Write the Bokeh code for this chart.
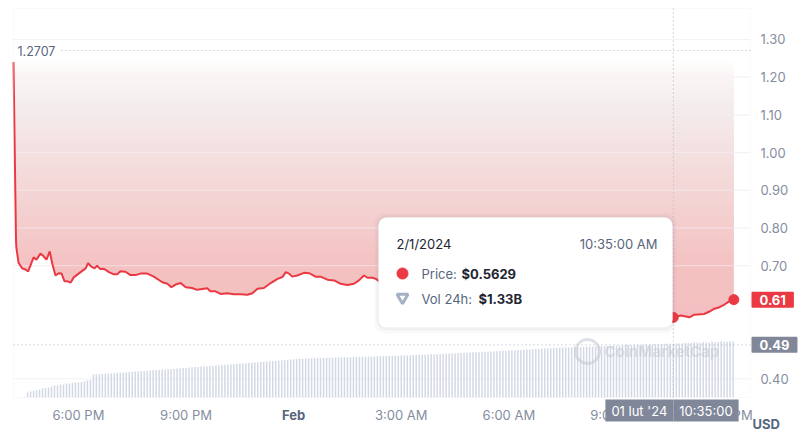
import numpy as np
from bokeh.plotting import figure
from bokeh.models import Range1d, FixedTicker, PrintfTickFormatter, Label, BoxAnnotation
from bokeh.embed import file_html
from bokeh.resources import INLINE

# ---------------- data (hours since 2024-01-31 00:00) ----------------
price_time = [
    16.19, 16.26, 16.27, 16.33, 16.43, 16.52, 16.60, 16.75, 16.83, 16.94,
    17.01, 17.11, 17.20, 17.27, 17.36, 17.45, 17.53, 17.61, 17.68, 17.78,
    17.87, 18.06, 18.20, 18.27, 18.35, 18.45, 18.52, 18.61, 18.71, 18.85,
    18.99, 19.08, 19.17, 19.31, 19.45, 19.59, 19.73, 19.92, 20.10, 20.34,
    20.48, 20.59, 20.71, 20.85, 20.99, 21.17, 21.31, 21.59, 21.68, 21.82,
    21.96, 22.15, 22.33, 22.52, 22.71, 22.85, 22.99, 23.17, 23.36, 23.55,
    23.69, 23.78, 23.87, 23.96, 24.10, 24.29, 24.43, 24.61, 24.75, 24.94,
    25.13, 25.31, 25.50, 25.68, 25.82, 25.96, 26.06, 26.20, 26.29, 26.38,
    26.6, 26.9, 27.2, 27.5, 27.8, 28.1, 28.4, 28.7, 29.0, 29.3,
    29.6, 29.9, 30.2, 30.5, 30.8, 31.1, 31.4, 31.7, 32.0, 32.3,
    32.6, 32.9, 33.2, 33.5, 33.8, 34.1, 34.4,
    34.583, 34.80, 35.03, 35.17, 35.45, 35.59, 35.73, 35.87, 36.01, 36.15, 36.27,
]
price_usd = [
    1.240, 0.767, 0.748, 0.708, 0.693, 0.690, 0.685, 0.722, 0.716, 0.732,
    0.727, 0.716, 0.738, 0.706, 0.674, 0.680, 0.679, 0.659, 0.659, 0.655,
    0.669, 0.683, 0.693, 0.707, 0.698, 0.693, 0.700, 0.691, 0.692, 0.683,
    0.677, 0.677, 0.685, 0.684, 0.675, 0.675, 0.679, 0.679, 0.671, 0.656,
    0.652, 0.643, 0.650, 0.654, 0.643, 0.641, 0.636, 0.640, 0.632, 0.632,
    0.625, 0.627, 0.624, 0.624, 0.623, 0.627, 0.639, 0.641, 0.654, 0.665,
    0.670, 0.683, 0.679, 0.671, 0.674, 0.681, 0.680, 0.671, 0.671, 0.663,
    0.661, 0.652, 0.649, 0.652, 0.661, 0.674, 0.668, 0.668, 0.665, 0.659,
    0.662, 0.655, 0.650, 0.657, 0.648, 0.640, 0.644, 0.636, 0.630, 0.634,
    0.626, 0.620, 0.625, 0.615, 0.610, 0.612, 0.604, 0.598, 0.602, 0.594,
    0.588, 0.590, 0.583, 0.578, 0.575, 0.570, 0.566,
    0.5629, 0.568, 0.563, 0.570, 0.572, 0.5785, 0.586, 0.590, 0.597, 0.606, 0.610,
]
vol_start_hour = 16.5          # first 5-minute volume bar (4:30 PM)
vol_step_hour = 5 / 60
volume_24h_b = [  # 24h volume, billions USD
    0.010, 0.123, 0.148, 0.172, 0.185, 0.197, 0.221, 0.234, 0.246, 0.271, 0.295, 0.297,
    0.320, 0.322, 0.344, 0.346, 0.357, 0.369, 0.370, 0.381, 0.394, 0.418, 0.431,
    0.566, 0.572, 0.575, 0.580, 0.586, 0.588, 0.594, 0.601, 0.606, 0.610, 0.617, 0.624,
    0.631, 0.638,
    0.641, 0.645, 0.652, 0.655, 0.660, 0.667, 0.671, 0.676, 0.683, 0.688, 0.692, 0.699,
    0.705, 0.709, 0.714, 0.721, 0.726, 0.731, 0.737, 0.744, 0.750, 0.755, 0.763,
    0.768, 0.771, 0.777, 0.784, 0.790, 0.794, 0.801, 0.806, 0.812, 0.819, 0.823, 0.829,
    0.836, 0.841, 0.846, 0.852, 0.858, 0.863, 0.868, 0.874, 0.880, 0.886,
    0.892, 0.899, 0.905, 0.911, 0.918, 0.924, 0.931, 0.937, 0.944, 0.951, 0.958,
    0.960, 0.962, 0.966, 0.967, 0.970, 0.972, 0.973, 0.977, 0.978, 0.980, 0.984, 0.985,
    0.988, 0.990, 0.991, 0.995, 0.996, 0.999, 1.000, 1.004, 1.005, 1.007, 1.011, 1.012,
    1.014, 1.018, 1.019, 1.021, 1.024, 1.026, 1.027, 1.030, 1.031, 1.033,
    1.036, 1.039, 1.043, 1.046, 1.048, 1.052, 1.056, 1.058, 1.061, 1.065, 1.068, 1.070,
    1.074, 1.078, 1.080, 1.084, 1.087, 1.090, 1.093, 1.097, 1.100, 1.104, 1.107,
    1.111, 1.114, 1.119, 1.123, 1.126, 1.131, 1.135, 1.139, 1.144, 1.148, 1.151, 1.156,
    1.160, 1.163, 1.168, 1.172, 1.175, 1.180, 1.184, 1.187, 1.193, 1.197, 1.200, 1.205,
    1.209, 1.212, 1.217, 1.221, 1.224, 1.230,
    1.232, 1.235, 1.238, 1.240, 1.243, 1.246, 1.248, 1.251, 1.254, 1.256, 1.259, 1.262,
    1.264, 1.267, 1.270, 1.272, 1.275, 1.278, 1.280, 1.283, 1.286, 1.288, 1.291, 1.294,
    1.296, 1.299, 1.302, 1.304, 1.307, 1.310, 1.312, 1.315, 1.318, 1.320, 1.323, 1.326,
    1.328, 1.330,
    1.333, 1.335, 1.338, 1.352, 1.343, 1.345, 1.366, 1.350, 1.353, 1.372, 1.358, 1.360,
    1.379, 1.365, 1.368, 1.386, 1.373, 1.375, 1.391, 1.380,
]
x_tick_hours = [18, 21, 24, 27, 30, 33, 36]
x_tick_labels = ["6:00 PM", "9:00 PM", "Feb", "3:00 AM", "6:00 AM", "9:00 AM", "12:00 PM"]
y_ticks = [0.40, 0.70, 0.80, 0.90, 1.00, 1.10, 1.20, 1.30]
max_price = 1.2707
ref_price = 0.49
last_price = 0.61
hover_time = 34.583
hover_price = 0.5629
hover_date = "2/1/2024"
hover_clock = "10:35:00 AM"
hover_vol = "$1.33B"
axis_date = "01 lut '24"
axis_clock = "10:35:00"

# ---------------- style / layout ----------------
RED = "#ea3943"
PINK = "#f4bcc0"
GREY_BOX = "#7f8799"
LABEL_GREY = "#858ea0"
DARK = "#222531"
MID = "#58667e"
DOT = "#aab2c0"
FONT = "Inter"

W, H = 800, 440
# visual plot box in page pixels and the data values at its edges
PL, PR, PT, PB = 13, 750, 8, 397
XL, XR = 16.19, 36.735
YT, YB = 1.3822, 0.3504
KX = (XR - XL) / (PR - PL)
KY = (YT - YB) / (PB - PT)
VOL_TOP = 9.6                      # volume value at the top of the plot box
KV = VOL_TOP / (PB - PT)


def sx(px):  # page pixel -> x data
    return XL + (px - PL) * KX


def sy(py):  # page pixel -> y data
    return YT - (py - PT) * KY


p = figure(width=W, height=H, x_range=Range1d(sx(0), sx(W)), y_range=Range1d(sy(H), sy(0)),
           y_axis_location="right", output_backend="svg", toolbar_location=None,
           min_border=0, background_fill_color="white", border_fill_color="white",
           outline_line_color=None)
p.extra_y_ranges = {"vol": Range1d(-(H - PB) * KV, PB * KV)}

# axes (pinned to the plot box edges)
p.yaxis.ticker = FixedTicker(ticks=y_ticks)
p.yaxis.formatter = PrintfTickFormatter(format="%.2f")
p.yaxis.fixed_location = XR
p.xaxis.ticker = FixedTicker(ticks=[t for t, l in zip(x_tick_hours, x_tick_labels) if l != "Feb"])
p.xaxis.major_label_overrides = {t: l for t, l in zip(x_tick_hours, x_tick_labels) if l != "Feb"}
p.xaxis.fixed_location = YB
for ax in (p.xaxis, p.yaxis):
    ax.axis_line_color = None
    ax.major_tick_line_color = None
    ax.minor_tick_line_color = None
    ax.major_tick_out = 0
    ax.major_tick_in = 0
    ax.minor_tick_out = 0
    ax.minor_tick_in = 0
    ax.major_label_text_font = FONT
    ax.major_label_text_font_size = "13px"
    ax.major_label_text_color = LABEL_GREY
p.yaxis.major_label_standoff = 10
p.xaxis.major_label_standoff = 9
p.xgrid.grid_line_color = None
p.ygrid.grid_line_color = None

# grid lines within the plot box
p.segment(x0=XL, x1=XR, y0=y_ticks, y1=y_ticks, line_color="#f1f2f5", line_width=1)

# volume bars
vol_t = vol_start_hour + np.arange(len(volume_24h_b)) * vol_step_hour
p.vbar(x=vol_t, top=volume_24h_b, bottom=0, width=vol_step_hour * 0.5, y_range_name="vol",
       fill_color="#d3d9e4", line_color=None)

# price area (filled above the line) fading toward the top
pt = np.array(price_time)
pv = np.array(price_usd)
top = pv[0]
p.varea(x=pt, y1=pv, y2=top, fill_color=PINK)
levels = np.linspace(pv.min(), top, 70)[:-1]
mid = levels + (levels[1] - levels[0]) / 2
strength = np.clip((top + 0.01 - mid) / (top + 0.01 - pv.min()), 0.01, 1.0)
ratio = strength / np.concatenate([[1.0], strength[:-1]])
p.quad(left=pt[0] - 0.01, right=pt[-1] + 0.01, bottom=levels, top=top + 0.01,
       fill_color="white", fill_alpha=1 - ratio, line_color=None)
grid_hi = [t for t in y_ticks if t > 0.6]
p.segment(x0=XL, x1=XR, y0=grid_hi, y1=grid_hi, line_color="#f3f4f6", line_alpha=0.6)

# reference lines (dotted)
dot_kw = dict(line_color=DOT, line_dash="1 3", line_width=1)
p.segment(x0=[XL], x1=[XR], y0=[max_price], y1=[max_price], **dot_kw)
p.segment(x0=[XL], x1=[XR], y0=[ref_price], y1=[ref_price], **dot_kw)
p.segment(x0=[hover_time], x1=[hover_time], y0=[YB], y1=[YT], **dot_kw)

p.line(pt, pv, line_color=RED, line_width=2)
p.scatter([pt[-1]], [pv[-1]], size=10, color=RED)
p.scatter([hover_time], [hover_price], size=10, color=RED)

# plot box outline
p.add_layout(BoxAnnotation(left=XL, right=XR, top=YT, bottom=YB, fill_alpha=0,
                           line_color="#eceef2", line_width=1))

p.add_layout(Label(x=sx(13), y=max_price, text=f"{max_price:.4f}", text_align="left",
                   text_baseline="middle", text_color=MID, text_font=FONT,
                   text_font_size="12.5px", background_fill_color="white",
                   padding=dict(x=4, y=1)))

# watermark
p.add_layout(Label(x=sx(604), y=sy(351), text="CoinMarketCap", text_align="left",
                   text_baseline="middle", text_color="#c3c9d4", text_alpha=0.55,
                   text_font=FONT, text_font_size="15px", text_font_style="bold"))
wm = p.scatter([sx(587)], [sy(351)], size=24, fill_color=None, line_color="#c3c9d4",
               line_width=3, line_alpha=0.55)
wm.level = "overlay"

# tooltip
for grow, alpha in ((4, 0.04), (2, 0.06)):
    gx, gy = grow * KX, grow * KY
    p.add_layout(BoxAnnotation(left=sx(378) - gx, right=sx(672) + gx, top=sy(217) + gy,
                               bottom=sy(327) - gy * 1.5, fill_color="#5a6478",
                               fill_alpha=alpha, line_color=None, border_radius=10))
p.add_layout(BoxAnnotation(left=sx(378), right=sx(672), top=sy(217), bottom=sy(327),
                           fill_color="white", fill_alpha=1.0, line_color="#eef0f3",
                           border_radius=8))
tip = dict(text_baseline="middle", text_font=FONT, text_font_size="13px")
p.add_layout(Label(x=sx(396), y=sy(243), text=hover_date, text_align="left",
                   text_color=DARK, **tip))
p.add_layout(Label(x=sx(657), y=sy(243), text=hover_clock, text_align="right",
                   text_color=MID, **tip))
p.add_layout(Label(x=sx(421), y=sy(273), text="Price:", text_align="left",
                   text_color=MID, **tip))
p.add_layout(Label(x=sx(461), y=sy(273), text=f"${hover_price}", text_align="left",
                   text_color=DARK, text_font_style="bold", **tip))
p.add_layout(Label(x=sx(421), y=sy(298), text="Vol 24h:", text_align="left",
                   text_color=MID, **tip))
p.add_layout(Label(x=sx(478), y=sy(298), text=hover_vol, text_align="left",
                   text_color=DARK, text_font_style="bold", **tip))
d1 = p.scatter([sx(402)], [sy(273)], size=11, color=RED)
d1.level = "overlay"
d2 = p.scatter([sx(402)], [sy(297)], marker="inverted_triangle", size=11,
               fill_color="white", line_color="#a6b0c3", line_width=3)
d2.level = "overlay"

# value tags on the right, date tag on the bottom
tag = dict(text_baseline="middle", text_align="left", text_color="white",
           text_font=FONT, text_font_size="13px", text_font_style="bold",
           padding=dict(x=8, y=3), border_radius=1)
p.add_layout(Label(x=sx(751), y=last_price, text=f"{last_price:.2f}",
                   background_fill_color=RED, **tag))
p.add_layout(Label(x=sx(751), y=ref_price, text=f"{ref_price:.2f}",
                   background_fill_color=GREY_BOX, **tag))
date_kw = dict(y=sy(410), text_baseline="middle", text_color="white", text_font=FONT,
               text_font_size="13px", background_fill_color=GREY_BOX, padding=dict(x=6, y=3))
p.add_layout(Label(x=hover_time, text=axis_date, text_align="right", **date_kw))
p.add_layout(Label(x=hover_time, text=axis_clock, text_align="left", **date_kw))
p.add_layout(Label(x=24, y=sy(414), text="Feb", text_align="center", text_baseline="middle",
                   text_color=MID, text_font=FONT, text_font_size="13px",
                   text_font_style="bold"))
p.add_layout(Label(x=sx(752), y=sy(423), text="USD", text_align="left",
                   text_baseline="middle", text_color=MID, text_font=FONT,
                   text_font_size="13px", text_font_style="bold"))

open("out.html", "w").write(file_html(p, INLINE))
